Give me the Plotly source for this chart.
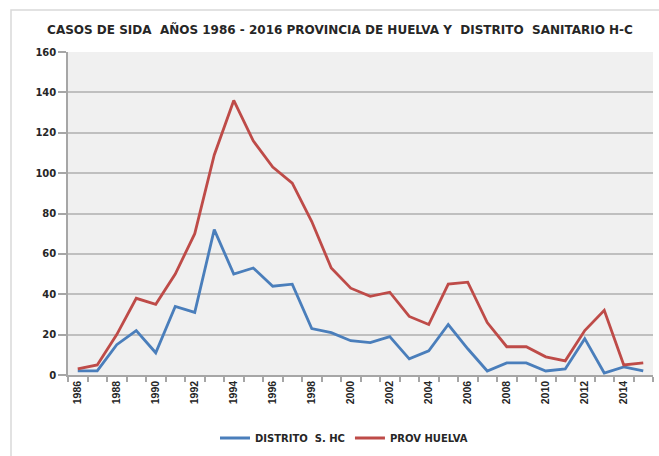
import plotly.graph_objects as go

years = list(range(1986, 2016))
distrito = [2, 2, 15, 22, 11, 34, 31, 72, 50, 53, 44, 45, 23, 21, 17, 16, 19, 8, 12, 25, 13, 2, 6, 6, 2, 3, 18, 1, 4, 2]
huelva = [3, 5, 20, 38, 35, 50, 70, 109, 136, 116, 103, 95, 76, 53, 43, 39, 41, 29, 25, 45, 46, 26, 14, 14, 9, 7, 22, 32, 5, 6]
x_ticks = list(range(1986, 2016, 2))
y_ticks = list(range(0, 161, 20))

W, H = 659, 456
L, R, T, B = 68, 653, 52, 375

def px(xp):
    return (xp - L) / (R - L)

def py(yp):
    return (B - yp) / (B - T)

wide = "DejaVu Sans, Verdana, sans-serif"
narrow = "Liberation Sans, Arial, sans-serif"
txt = "#262626"

fig = go.Figure()
fig.add_trace(go.Scatter(x=years, y=distrito, mode="lines", name="DISTRITO  S. HC",
                         line=dict(color="#4A7EBB", width=2.8)))
fig.add_trace(go.Scatter(x=years, y=huelva, mode="lines", name="PROV HUELVA",
                         line=dict(color="#BE4B48", width=2.8)))

fig.update_layout(
    width=W, height=H,
    margin=dict(l=L, r=W - R, t=T, b=H - B, autoexpand=False),
    paper_bgcolor="white",
    plot_bgcolor="#F0F0F0",
    title=dict(text="<b>CASOS DE SIDA  AÑOS 1986 - 2016 PROVINCIA DE HUELVA Y  DISTRITO  SANITARIO H-C</b>",
               x=340 / W, xanchor="center", y=1 - 30 / H, yanchor="middle",
               font=dict(family=wide, size=12, color=txt)),
    showlegend=True,
    legend=dict(orientation="h", x=px(344), xanchor="center", y=py(438), yanchor="middle",
                font=dict(family=wide, size=10, color=txt, weight="bold"),
                bgcolor="rgba(0,0,0,0)", tracegroupgap=0),
    font=dict(family=wide, color=txt),
)

fig.update_xaxes(
    automargin=False,
    range=[1985.5, 2015.5], tickmode="array", tickvals=x_ticks,
    ticktext=[str(v) for v in x_ticks], tickangle=-90,
    tickfont=dict(family=narrow, size=10.5, color=txt, weight="bold"),
    ticks="", showgrid=False, zeroline=False,
    showline=True, linecolor="#A6A6A6", linewidth=1.5,
    minor=dict(tickmode="linear", tick0=1985.5, dtick=1, ticks="outside",
               ticklen=5, tickcolor="#A6A6A6", tickwidth=1.5, showgrid=False),
)
fig.update_yaxes(
    automargin=False,
    range=[0, 160], tickmode="array", tickvals=y_ticks,
    tickfont=dict(family=wide, size=10, color=txt, weight="bold"),
    ticks="outside", ticklen=8, tickcolor="#A6A6A6", tickwidth=1.5,
    showgrid=True, gridcolor="#BFBFBF", gridwidth=1.5, zeroline=False,
    showline=True, linecolor="#A6A6A6", linewidth=1.5,
)

fig.add_shape(type="rect", xref="paper", yref="paper",
              x0=px(11), x1=px(680), y0=py(480), y1=py(10),
              line=dict(color="#D9D9D9", width=1.5), fillcolor="rgba(0,0,0,0)", layer="below")

fig.write_html("out.html", config={"displayModeBar": False},
               post_script="document.body.style.margin='0';document.body.style.overflow='hidden';")
